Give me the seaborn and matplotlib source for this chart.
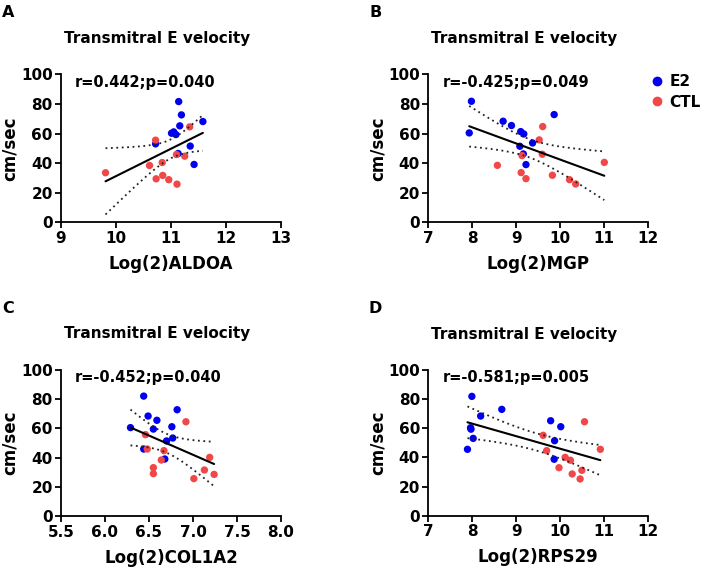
import numpy as np
import pandas as pd
import matplotlib
matplotlib.use("Agg")
import matplotlib.pyplot as plt
import seaborn as sns

# values
aldoa_e2_x = [11.14, 11.19, 11.16, 11.58, 11.01, 11.05, 11.09, 10.72, 11.35, 11.42, 11.13]
aldoa_e2_y = [81.6, 72.6, 65.2, 68.1, 60.2, 61.1, 59.3, 53.0, 51.5, 39.1, 46.5]
aldoa_ctl_x = [9.81, 10.72, 10.61, 10.84, 10.73, 10.85, 10.96, 11.11, 11.10, 11.25, 11.34]
aldoa_ctl_y = [33.5, 55.5, 38.4, 40.4, 29.4, 31.7, 28.8, 25.8, 45.8, 44.7, 64.5]

mgp_e2_x = [7.98, 7.93, 8.70, 8.89, 9.10, 9.17, 9.08, 9.37, 9.86, 9.16, 9.22]
mgp_e2_y = [81.8, 60.4, 68.3, 65.4, 61.3, 59.7, 51.4, 53.6, 72.8, 46.2, 39.0]
mgp_ctl_x = [8.57, 9.11, 9.22, 9.13, 9.52, 9.60, 9.59, 9.82, 10.21, 10.35, 11.0]
mgp_ctl_y = [38.5, 33.6, 29.5, 45.1, 55.7, 64.7, 46.0, 31.8, 28.8, 25.9, 40.5]

col_e2_x = [6.44, 6.49, 6.59, 6.82, 6.29, 6.55, 6.76, 6.70, 6.77, 6.44, 6.68]
col_e2_y = [82.0, 68.4, 65.5, 72.7, 60.5, 59.5, 61.1, 51.4, 53.4, 45.9, 39.1]
col_ctl_x = [6.46, 6.48, 6.67, 6.64, 6.55, 6.55, 6.92, 7.01, 7.13, 7.19, 7.24]
col_ctl_y = [55.7, 45.9, 44.8, 38.4, 33.2, 29.1, 64.5, 25.7, 31.6, 40.2, 28.6]

rps_e2_x = [7.99, 8.19, 8.67, 7.96, 7.97, 8.02, 7.89, 9.78, 10.01, 9.87, 9.86]
rps_e2_y = [81.8, 68.3, 72.9, 60.3, 59.3, 53.0, 45.5, 65.1, 61.0, 51.4, 38.7]
rps_ctl_x = [9.61, 9.69, 9.97, 10.11, 10.23, 10.27, 10.45, 10.49, 10.55, 10.91]
rps_ctl_y = [55.1, 44.6, 32.9, 40.0, 38.0, 28.6, 25.2, 31.1, 64.4, 45.5]

panels = [
    ("A", "Log(2)ALDOA", "r=0.442;p=0.040", aldoa_e2_x, aldoa_e2_y, aldoa_ctl_x, aldoa_ctl_y, (9, 13), [9, 10, 11, 12, 13]),
    ("B", "Log(2)MGP", "r=-0.425;p=0.049", mgp_e2_x, mgp_e2_y, mgp_ctl_x, mgp_ctl_y, (7, 12), [7, 8, 9, 10, 11, 12]),
    ("C", "Log(2)COL1A2", "r=-0.452;p=0.040", col_e2_x, col_e2_y, col_ctl_x, col_ctl_y, (5.5, 8.0), [5.5, 6.0, 6.5, 7.0, 7.5, 8.0]),
    ("D", "Log(2)RPS29", "r=-0.581;p=0.005", rps_e2_x, rps_e2_y, rps_ctl_x, rps_ctl_y, (7, 12), [7, 8, 9, 10, 11, 12]),
]

sns.set_style("ticks")
plt.rcParams["font.family"] = ["DejaVu Sans"]
plt.rcParams["font.weight"] = "bold"
plt.rcParams["axes.linewidth"] = 1.3
for key in ["text.color", "axes.labelcolor", "xtick.color", "ytick.color", "axes.edgecolor"]:
    plt.rcParams[key] = "black"

colors = {"E2": "#0000ee", "CTL": "#f04848"}

fig = plt.figure(figsize=(7.09, 5.74), dpi=100)
rects = [
    [0.0860, 0.6127, 0.3103, 0.2578],
    [0.6041, 0.6127, 0.3103, 0.2578],
    [0.0860, 0.1005, 0.3103, 0.2554],
    [0.6041, 0.1016, 0.3103, 0.2541],
]

for (letter, xlab, stat, ex, ey, cx, cy, xlim, xticks), rect in zip(panels, rects):
    ax = fig.add_axes(rect)
    df = pd.DataFrame({
        "x": ex + cx,
        "y": ey + cy,
        "group": ["E2"] * len(ex) + ["CTL"] * len(cx),
    })
    sns.scatterplot(data=df, x="x", y="y", hue="group", palette=colors, s=28,
                    edgecolor="none", ax=ax, legend=False, clip_on=False, zorder=3)
    sns.regplot(data=df, x="x", y="y", scatter=False, ci=None, truncate=True, ax=ax,
                line_kws=dict(color="black", lw=1.5, zorder=4))

    # 95% confidence band as dotted lines
    x = df["x"].to_numpy()
    y = df["y"].to_numpy()
    n = len(x)
    b, a = np.polyfit(x, y, 1)
    resid = y - (a + b * x)
    s = np.sqrt(np.sum(resid ** 2) / (n - 2))
    sxx = np.sum((x - x.mean()) ** 2)
    xs = np.linspace(x.min(), x.max(), 100)
    half = 2.08 * s * np.sqrt(1 / n + (xs - x.mean()) ** 2 / sxx)
    yhat = a + b * xs
    ax.plot(xs, yhat + half, color="#222222", lw=1.3, ls=(0, (1, 2)), zorder=4)
    ax.plot(xs, yhat - half, color="#222222", lw=1.3, ls=(0, (1, 2)), zorder=4)

    ax.set_xlim(*xlim)
    ax.set_ylim(0, 100)
    ax.set_xticks(xticks)
    if letter == "C":
        ax.set_xticklabels([f"{t:.1f}" for t in xticks])
    ax.set_yticks([0, 20, 40, 60, 80, 100])
    sns.despine(ax=ax)
    ax.tick_params(direction="out", length=4, width=1.3, labelsize=11, pad=2)
    for lab in ax.get_xticklabels() + ax.get_yticklabels():
        lab.set_fontweight("bold")

    ax.set_xlabel(xlab, fontsize=12, fontweight="bold")
    ax.xaxis.set_label_coords(0.5, -0.22)
    ax.set_ylabel("cm/sec", fontsize=12, fontweight="bold")
    ax.yaxis.set_label_coords(-0.19, 0.5)

    ax.text(0.436, 1.245, "Transmitral E velocity", transform=ax.transAxes,
            ha="center", va="center", fontsize=11, fontweight="bold")
    ax.text(0.064, 0.946, stat, transform=ax.transAxes, ha="left", va="center",
            fontsize=10.5, fontweight="bold")
    ax.text(-0.24, 1.42, letter, transform=ax.transAxes, ha="center", va="center",
            fontsize=11.5, fontweight="bold")

    if letter == "B":
        handles = [plt.Line2D([], [], marker="o", ls="", color=colors[g], markersize=6)
                   for g in ["E2", "CTL"]]
        ax.legend(handles, ["E2", "CTL"], loc="upper left", bbox_to_anchor=(1.012, 1.0),
                  frameon=False, prop=dict(size=11, weight="bold"), borderpad=0,
                  borderaxespad=0, handletextpad=0.4, labelspacing=0.35, handlelength=0.8)

fig.savefig("out.png", dpi=100)
